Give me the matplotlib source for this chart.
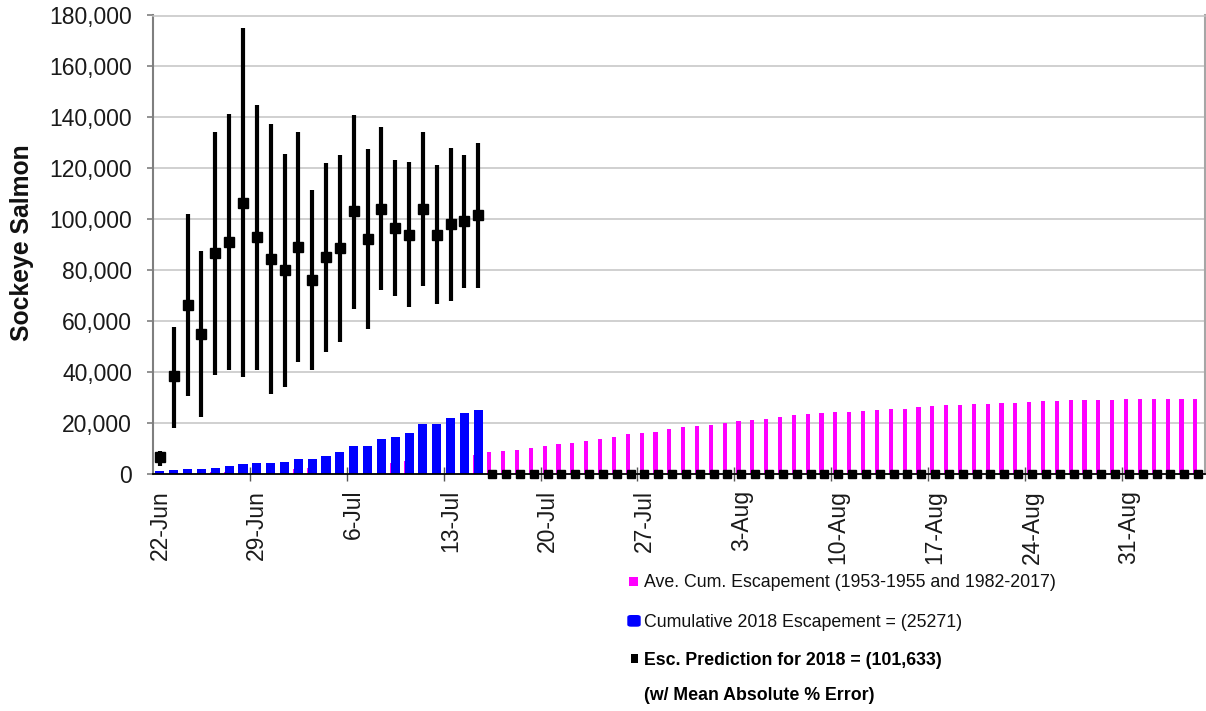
import numpy as np
import pandas as pd
import matplotlib
matplotlib.use("Agg")
import matplotlib.pyplot as plt
from matplotlib.patches import Rectangle, FancyBboxPatch
from matplotlib.ticker import FixedLocator, FuncFormatter

plt.rcParams['font.family'] = ['Liberation Sans', 'DejaVu Sans']

# ---- data -------------------------------------------------------------
start_date = "2018-06-22"
n_days = 76

# average cumulative escapement (1953-1955 and 1982-2017), one value per day
avg_cum = [150, 250, 350, 500, 650, 850, 1050, 1300, 1550, 1850, 2150, 2400,
           2600, 2900, 3200, 3500, 4000, 4300, 5000, 5500, 5900, 6400, 7000, 7400,
           8530, 8910, 9560, 10330, 10820, 11850, 12240, 13120, 13650, 14530,
           15560, 16060, 16440, 17480, 18360, 18850, 19390, 19880, 20650, 21150,
           21690, 22560, 23060, 23590, 23980, 24400, 24350,
           24700, 25200, 25700, 25700, 26200, 26750, 27100, 27100, 27650, 27650,
           28000, 28000, 28400, 28500, 28500, 28900, 28900, 28900, 28900, 29300,
           29300, 29300, 29300, 29300, 29300]

# cumulative 2018 escapement to date
cum_2018 = [1200, 1400, 1900, 2000, 2500, 3100, 3900, 4500, 4500, 4900, 5800, 5800,
            7200, 8800, 11000, 11000, 13900, 14400, 15900, 19700, 19700, 21900,
            23900, 25271]

# escapement prediction with mean absolute % error range
pred = [6600, 38300, 66200, 55100, 86800, 91100, 106400, 93000, 84500, 80000,
        89100, 76000, 85200, 88900, 103100, 92400, 103900, 96700, 93700, 103900,
        93700, 98300, 99200, 101633]
pred_low = [3300, 18000, 30600, 22300, 38700, 40700, 38000, 40700, 31500, 34100,
            43900, 40700, 47900, 51800, 64900, 57000, 72100, 69900, 65500, 73700,
            66900, 67900, 73200, 73200]
pred_high = [9200, 57900, 102000, 87600, 134300, 141500, 174900, 145000, 137300,
             125800, 134300, 111300, 121900, 125100, 141100, 127600, 136300,
             123200, 122300, 134300, 121300, 128000, 125100, 130000]

dates = pd.date_range(start_date, periods=n_days, freq="D")
tick_days = list(range(0, n_days, 7))
tick_labels = [f"{dates[d].day}-{dates[d].strftime('%b')}" for d in tick_days]

# ---- figure -------------------------------------------------------------
W, H = 1206, 711
fig = plt.figure(figsize=(W / 100, H / 100), dpi=100)
ax = fig.add_axes([153 / W, 1 - 474 / H, (1205 - 153) / W, (474 - 15.5) / H])

x_all = np.arange(n_days) + 0.5
x_obs = np.arange(len(cum_2018)) + 0.5
x_pred = np.arange(len(pred)) + 0.5
x_future = np.arange(len(pred), n_days) + 0.5

ax.bar(x_all - 0.2, avg_cum, width=0.3, color="#ff00ff", zorder=2)
ax.bar(x_obs, cum_2018, width=0.66, color="#0000ff", zorder=3)

p = np.array(pred)
yerr = [p - np.array(pred_low), np.array(pred_high) - p]
ax.errorbar(x_pred, p, yerr=yerr, fmt="s", color="black", ms=6.5,
            elinewidth=3, capsize=0, zorder=4)
ax.plot(x_future, np.zeros(len(x_future)), "s", color="black", ms=6,
        clip_on=False, zorder=5)

ax.set_xlim(0, n_days)
ax.set_ylim(0, 180000)

# y axis
ax.yaxis.set_major_locator(FixedLocator(np.arange(0, 180001, 20000)))
ax.yaxis.set_major_formatter(FuncFormatter(lambda v, _: f"{int(v):,}"))
ax.tick_params(axis="y", direction="out", length=4.5, width=1.2,
               color="#7f7f7f", labelsize=16.5, labelcolor="#1a1a1a", pad=10.5)
ax.yaxis.grid(True, color="#c4c4c4", lw=1.1, zorder=0)
ax.set_axisbelow(True)

# x axis: labels centred on the day, tick marks on day boundaries
ax.set_xticks([d + 0.5 for d in tick_days])
ax.set_xticklabels(tick_labels, rotation=90)
ax.tick_params(axis="x", which="major", length=0, labelsize=16.5,
               labelcolor="#1a1a1a", pad=11.5)
ax.set_xticks(tick_days[1:], minor=True)
ax.tick_params(axis="x", which="minor", direction="inout", length=10,
               width=1, color="#555555")

for side in ("left",):
    ax.spines[side].set_color("#7f7f7f")
    ax.spines[side].set_linewidth(1.5)
ax.spines["right"].set_color("#a6a6a6")
ax.spines["right"].set_linewidth(1.5)
ax.spines["top"].set_color("#c4c4c4")
ax.spines["top"].set_linewidth(1.1)
ax.spines["bottom"].set_color("black")
ax.spines["bottom"].set_linewidth(1.3)
ax.spines["bottom"].set_zorder(6)

fig.text(21.7 / W, 1 - 243 / H, "Sockeye Salmon", rotation=90, fontsize=17.8,
         fontweight="bold", ha="center", va="center", color="#111111")

# ---- legend block -------------------------------------------------------
def px_rect(x0, y0, x1, y1, color, rounded=False):
    fx, fy = x0 / W, 1 - y1 / H
    fw, fh = (x1 - x0) / W, (y1 - y0) / H
    if rounded:
        patch = FancyBboxPatch((fx, fy), fw, fh, boxstyle="round,pad=0,rounding_size=0.003",
                               transform=fig.transFigure, facecolor=color,
                               edgecolor="none")
    else:
        patch = Rectangle((fx, fy), fw, fh, transform=fig.transFigure,
                          facecolor=color, edgecolor="none")
    fig.patches.append(patch)

px_rect(629.3, 576.7, 638.3, 586.0, "#ff00ff")
px_rect(627.3, 615.0, 640.7, 626.7, "#0000ff", rounded=True)
px_rect(630.7, 654.3, 638.3, 662.7, "black")

legend_x = 644 / W
fig.text(legend_x, 1 - 587.3 / H, "Ave. Cum. Escapement (1953-1955 and 1982-2017)",
         fontsize=12.8, va="baseline", ha="left", color="#111111")
fig.text(legend_x, 1 - 626.7 / H, "Cumulative 2018 Escapement = (25271)",
         fontsize=12.8, va="baseline", ha="left", color="#111111")
fig.text(legend_x, 1 - 665.0 / H, "Esc. Prediction for 2018 = (101,633)",
         fontsize=12.8, fontweight="bold", va="baseline", ha="left", color="black")
fig.text(legend_x, 1 - 700.0 / H, "(w/ Mean Absolute % Error)",
         fontsize=12.8, fontweight="bold", va="baseline", ha="left", color="black")

fig.savefig("out.png", dpi=100, facecolor="white")
